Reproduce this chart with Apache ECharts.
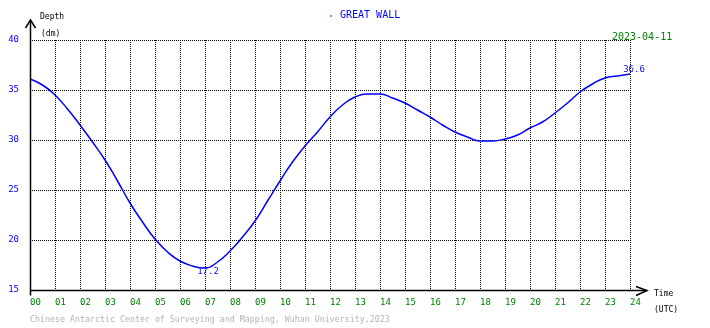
<!DOCTYPE html>
<html>
<head>
<meta charset="utf-8">
<script src="https://cdn.jsdelivr.net/npm/echarts@6/dist/echarts.min.js"></script>
<style>
  html, body { margin: 0; padding: 0; background: #fff; }
  #chart { width: 710px; height: 328px; }
</style>
</head>
<body>
<div id="chart"></div>
<script>
// Tide depth at Great Wall station, 2023-04-11 (hours UTC, depth in dm)
const hours = [0, 0.5, 1, 1.5, 2, 2.5, 3, 3.5, 4, 4.5, 5, 5.5, 6, 6.5, 7, 7.5, 8, 8.5, 9, 9.5, 10,
  10.5, 11, 11.5, 12, 12.5, 13, 13.5, 14, 14.5, 15, 15.5, 16, 16.5, 17, 17.5, 18, 18.5, 19, 19.5,
  20, 20.5, 21, 21.5, 22, 22.5, 23, 23.5, 24];
const depth = [36.1, 35.5, 34.5, 33.1, 31.5, 29.8, 28.0, 25.9, 23.7, 21.8, 20.1, 18.8, 17.9, 17.4, 17.2, 17.8, 18.9, 20.3, 21.9, 23.9, 25.9,
  27.8, 29.4, 30.8, 32.3, 33.5, 34.3, 34.6, 34.6, 34.2, 33.7, 33.0, 32.3, 31.5, 30.8, 30.3, 29.9, 29.9, 30.1, 30.5,
  31.2, 31.8, 32.7, 33.7, 34.8, 35.6, 36.2, 36.4, 36.6];
const yTicks = [15, 20, 25, 30, 35, 40];
const xTickLabels = ['00','01','02','03','04','05','06','07','08','09','10','11','12',
  '13','14','15','16','17','18','19','20','21','22','23','24'];

const MONO = '"DejaVu Sans Mono", "Liberation Mono", monospace';
const chart = echarts.init(document.getElementById('chart'), null, { renderer: 'canvas' });

const last = hours.length - 1;

chart.setOption({
  animation: false,
  backgroundColor: '#ffffff',
  grid: { left: 30, right: 80, top: 40, bottom: 38 },
  xAxis: {
    type: 'value', min: 0, max: 24, interval: 1,
    axisLine: { show: false },
    axisTick: { show: false },
    axisLabel: {
      color: '#008000', fontFamily: MONO, fontSize: 9, align: 'left', margin: 8,
      formatter: v => xTickLabels[v]
    },
    splitLine: { show: true, lineStyle: { color: '#000', type: 'dotted', width: 1 } }
  },
  yAxis: {
    type: 'value', min: yTicks[0], max: yTicks[yTicks.length - 1], interval: 5,
    axisLine: { show: false },
    axisTick: { show: false },
    axisLabel: {
      color: '#0000ff', fontFamily: MONO, fontSize: 9, margin: 11, padding: [0, 0, 4, 0],
      formatter: v => String(v)
    },
    splitLine: { show: true, lineStyle: { color: '#000', type: 'dotted', width: 1 } }
  },
  series: [{
    type: 'line',
    data: hours.map((h, i) => [h, depth[i]]),
    smooth: 0.5,
    showSymbol: false,
    lineStyle: { color: '#0000ff', width: 1.5 },
    markPoint: {
      symbol: 'circle', symbolSize: 0,
      label: {
        show: true, color: '#1010dd', fontFamily: MONO, fontSize: 9, position: 'inside',
        formatter: p => Number(p.value).toFixed(1)
      },
      data: [
        { type: 'min', label: { offset: [3, 4] } },
        { coord: [hours[last], depth[last]], value: depth[last], label: { offset: [4, -4] } }
      ]
    }
  }]
});

// Axis lines with open arrowheads, placed from the axis scales
const pOrigin = chart.convertToPixel({ gridIndex: 0 }, [0, yTicks[0]]);
const pTop = chart.convertToPixel({ gridIndex: 0 }, [0, yTicks[yTicks.length - 1]]);
const pRight = chart.convertToPixel({ gridIndex: 0 }, [24, yTicks[0]]);
const ox = Math.round(pOrigin[0]) + 0.5, oy = Math.round(pOrigin[1]) + 0.5;
const yTip = Math.round(pTop[1]) - 20;
const xTip = Math.round(pRight[0]) + 17;
const stroke = { stroke: '#000', lineWidth: 1.5 };

chart.setOption({
  graphic: [
    { type: 'polyline', shape: { points: [[ox, yTip], [ox, oy + 5]] }, style: stroke, z: 10 },
    { type: 'polyline', shape: { points: [[ox - 5, yTip + 8], [ox, yTip], [ox + 5, yTip + 8]] }, style: stroke, z: 10 },
    { type: 'polyline', shape: { points: [[ox, oy], [xTip, oy]] }, style: stroke, z: 10 },
    { type: 'polyline', shape: { points: [[xTip - 11, oy - 4], [xTip, oy], [xTip - 11, oy + 5]] }, style: stroke, z: 10 },
    { type: 'text', left: 40, top: 13, style: { text: 'Depth', fill: '#000', font: '8px ' + MONO } },
    { type: 'text', left: 41, top: 30, style: { text: '(dm)', fill: '#000', font: '8px ' + MONO } },
    { type: 'circle', shape: { cx: 331, cy: 16, r: 0.8 }, style: { fill: '#0000ff' } },
    { type: 'text', left: 340, top: 10, style: { text: 'GREAT WALL', fill: '#0000ff', font: '10px ' + MONO } },
    { type: 'text', left: 612, top: 32, style: { text: '2023-04-11', fill: '#008000', font: '10px ' + MONO } },
    { type: 'text', left: 654, top: 290, style: { text: 'Time', fill: '#000', font: '8px ' + MONO } },
    { type: 'text', left: 654, top: 306, style: { text: '(UTC)', fill: '#000', font: '8px ' + MONO } },
    { type: 'text', left: 30, top: 316, style: {
      text: 'Chinese Antarctic Center of Surveying and Mapping, Wuhan University,2023',
      fill: '#b4b4b4', font: '8.3px ' + MONO } }
  ]
});
</script>
</body>
</html>
